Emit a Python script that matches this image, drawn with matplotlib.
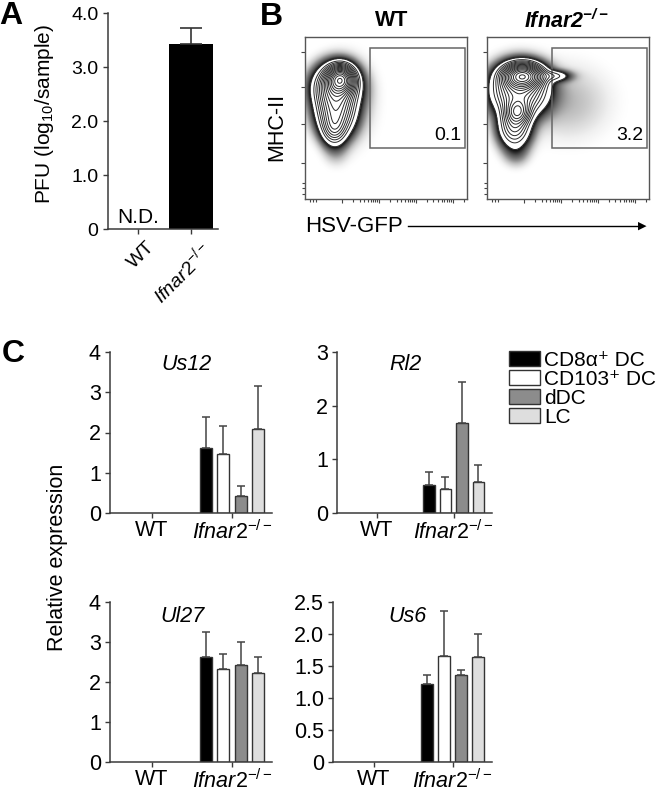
import numpy as np
import matplotlib.pyplot as plt
import matplotlib.transforms as mtransforms
from matplotlib.patches import Patch, Rectangle

plt.rcParams['font.family'] = ['Liberation Sans', 'DejaVu Sans']
plt.rcParams['mathtext.fontset'] = 'custom'
plt.rcParams['mathtext.rm'] = 'Liberation Sans'
plt.rcParams['mathtext.it'] = 'Liberation Sans:italic'
plt.rcParams['mathtext.bf'] = 'Liberation Sans:bold'
plt.rcParams['mathtext.bfit'] = 'Liberation Sans:bold:italic'

# ---- panel A: virus titre
pfu_groups = ['WT', r'$\mathit{Ifnar2}^{\mathit{-/-}}$']
pfu_mean = [0.0, 3.43]
pfu_err = [0.0, 0.29]
pfu_ticks = [0, 1, 2, 3, 4]
pfu_ticklabels = ['0', '1.0', '2.0', '3.0', '4.0']

# ---- panel B: flow plots, density components (cx, cy, sx, sy, weight) in axes units
wt_cx = [0.22, 0.19, 0.19, 0.18, 0.28, 0.19]
wt_cy = [0.74, 0.69, 0.54, 0.43, 0.60, 0.30]
wt_sx = [0.05, 0.08, 0.07, 0.045, 0.10, 0.05]
wt_sy = [0.05, 0.08, 0.09, 0.06, 0.16, 0.06]
wt_w = [1.0, 0.55, 0.45, 0.22, 0.02, 0.02]

ko_cx = [0.22, 0.20, 0.19, 0.17, 0.42, 0.50, 0.18]
ko_cy = [0.76, 0.67, 0.54, 0.45, 0.76, 0.60, 0.28]
ko_sx = [0.07, 0.10, 0.045, 0.06, 0.06, 0.17, 0.05]
ko_sy = [0.045, 0.09, 0.045, 0.08, 0.022, 0.15, 0.05]
ko_w = [1.0, 0.45, 0.35, 0.28, 0.12, 0.016, 0.025]

gate_pct = ['0.1', '3.2']

# ---- panel C: qPCR
cell_types = ['CD8\u03b1\u207a DC', 'CD103\u207a DC', 'dDC', 'LC']
cell_colors = ['#000000', '#ffffff', '#8c8c8c', '#dedede']
genes = ['Us12', 'Rl2', 'Ul27', 'Us6']
us12_mean = [1.62, 1.47, 0.42, 2.09]
us12_err = [0.76, 0.69, 0.25, 1.07]
rl2_mean = [0.52, 0.45, 1.68, 0.58]
rl2_err = [0.24, 0.22, 0.76, 0.31]
ul27_mean = [2.63, 2.32, 2.42, 2.22]
ul27_err = [0.62, 0.38, 0.58, 0.40]
us6_mean = [1.22, 1.66, 1.36, 1.64]
us6_err = [0.14, 0.70, 0.08, 0.36]
c_groups = ['WT', r'$\mathit{Ifnar2}^{\mathit{-/-}}$']

W, H = 666, 792
fig = plt.figure(figsize=(W / 100, H / 100), dpi=100)


def rect(x0, y0, x1, y1):
    return [x0 / W, 1 - y1 / H, (x1 - x0) / W, (y1 - y0) / H]


def fx(px):
    return px / W


def fy(py):
    return 1 - py / H


spine_c = '#3a3a3a'


def style_axes(ax, fs):
    for s in ['top', 'right']:
        ax.spines[s].set_visible(False)
    for s in ['left', 'bottom']:
        ax.spines[s].set_color(spine_c)
        ax.spines[s].set_linewidth(1.1)
    ax.tick_params(direction='out', length=3.5, width=1, color=spine_c, labelsize=fs)


# ---------------- A
axA = fig.add_axes(rect(108, 13, 218, 229))
x = np.arange(len(pfu_groups))
axA.bar(x, pfu_mean, width=0.83, color='black', linewidth=0)
for i in range(len(x)):
    if pfu_mean[i] > 0:
        axA.errorbar(x[i], pfu_mean[i], yerr=[[0], [pfu_err[i]]], color='#333333',
                     elinewidth=1.2, capsize=8, capthick=1.2)
axA.set_xlim(-0.57, 1.51)
axA.set_ylim(0, 4.0)
axA.set_yticks(pfu_ticks)
axA.set_yticklabels(pfu_ticklabels)
axA.set_xticks(x)
axA.set_xticklabels(pfu_groups, rotation=45, ha='right', va='top', rotation_mode='anchor')
style_axes(axA, 14)
axA.tick_params(axis='x', pad=3)
shift = mtransforms.ScaledTranslation(8 / 100, 0, fig.dpi_scale_trans)
for lab in axA.get_xticklabels():
    lab.set_transform(lab.get_transform() + shift)
axA.text(0, 0.22, 'N.D.', ha='center', va='center', fontsize=15)
fig.text(fx(45), fy(114), 'PFU (log$_{10}$/sample)', rotation=90, fontsize=15,
         ha='center', va='center')
fig.text(fx(-1), fy(1), 'A', fontsize=23, fontweight='bold', va='top', ha='left')

# ---------------- B
g = np.linspace(0, 1, 300)
GX, GY = np.meshgrid(g, g)


def flow(ax, cx, cy, sx, sy, w, label):
    Z = np.zeros_like(GX)
    for a, b, c, d, e in zip(cx, cy, sx, sy, w):
        Z += e * np.exp(-0.5 * (((GX - a) / c) ** 2 + ((GY - b) / d) ** 2))
    L0 = 0.06 * Z.max()
    lo = 0.015
    v = np.clip(np.log(np.maximum(Z, 1e-12) / (L0 * lo)) / np.log(1 / lo), 0, 1)
    dark = np.where(Z < L0, v ** 2.0, 0)
    ax.imshow(dark * 0.97, cmap='Greys', vmin=0, vmax=1, origin='lower',
              extent=(0, 1, 0, 1), interpolation='bilinear', aspect='auto')
    levels = L0 * (0.97 * Z.max() / L0) ** (np.linspace(0, 1, 16) ** 0.6)
    ax.contour(GX, GY, Z, levels=levels, colors='#2a2a2a', linewidths=0.7)
    ax.add_patch(Rectangle((0.40, 0.315), 0.585, 0.615, fill=False,
                           edgecolor='#666666', linewidth=1.1))
    ax.text(0.965, 0.39, label, ha='right', va='center', fontsize=14)
    ax.set_xlim(0, 1)
    ax.set_ylim(0, 1)
    for s in ax.spines.values():
        s.set_color('#555555')
        s.set_linewidth(1.0)
    step = 0.227
    dec = [0.23, 0.457, 0.684, 0.911]
    minors = [0.03, 0.05, 0.07]
    for d0 in dec:
        minors += [d0 + np.log10(k) * step for k in range(2, 10) if d0 + np.log10(k) * step < 1]
    ax.set_xticks(dec)
    ax.set_xticks(minors, minor=True)
    ax.set_yticks([0.22, 0.46, 0.69, 0.91])
    ax.set_yticks([0.03, 0.07, 0.1], minor=True)
    ax.set_xticklabels([])
    ax.set_yticklabels([])
    ax.tick_params(which='both', direction='out', color='#444444', width=0.8)
    ax.tick_params(which='major', length=3)
    ax.tick_params(which='minor', length=2)


axB1 = fig.add_axes(rect(305, 37, 467, 199))
flow(axB1, wt_cx, wt_cy, wt_sx, wt_sy, wt_w, gate_pct[0])
axB2 = fig.add_axes(rect(487, 37, 649, 199))
flow(axB2, ko_cx, ko_cy, ko_sx, ko_sy, ko_w, gate_pct[1])
fig.text(fx(392), fy(21), 'WT', fontsize=15.5, fontweight='bold', ha='center', va='center')
fig.text(fx(566), fy(21), r'$\mathbfit{Ifnar2}^{\mathbfit{-/-}}$', fontsize=15.5,
         ha='center', va='center')
fig.text(fx(277), fy(127), 'MHC-II', rotation=90, fontsize=15.5, ha='center', va='center')
fig.text(fx(305), fy(226), 'HSV-GFP', fontsize=16, va='center', ha='left')
fig.add_artist(plt.Line2D([fx(408), fx(640)], [fy(226), fy(226)], color='black', lw=1))
fig.text(fx(646), fy(226), '\u25b6', fontsize=8, va='center', ha='right')
fig.text(fx(260), fy(2), 'B', fontsize=23, fontweight='bold', va='top', ha='left')

# ---------------- C
c_means = [us12_mean, rl2_mean, ul27_mean, us6_mean]
c_errs = [us12_err, rl2_err, ul27_err, us6_err]
c_rects = [rect(110, 352, 272, 513), rect(337, 352, 492, 513),
           rect(110, 602, 272, 762), rect(333, 602, 492, 762)]
c_ylims = [4, 3, 4, 2.5]
c_yticks = [[0, 1, 2, 3, 4], [0, 1, 2, 3], [0, 1, 2, 3, 4],
            [0, 0.5, 1.0, 1.5, 2.0, 2.5]]
c_yticklabels = [['0', '1', '2', '3', '4'], ['0', '1', '2', '3'],
                 ['0', '1', '2', '3', '4'], ['0', '0.5', '1.0', '1.5', '2.0', '2.5']]
c_title_x = [0.47, 0.44, 0.45, 0.47]
c_title_y = [0.92, 0.92, 0.91, 0.91]
offsets = np.array([-1.5, -0.5, 0.5, 1.5]) * 0.216

for k in range(4):
    ax = fig.add_axes(c_rects[k])
    for j in range(4):
        ax.bar(1 + offsets[j], c_means[k][j], width=0.15, color=cell_colors[j],
               edgecolor='#333333', linewidth=1)
        ax.errorbar(1 + offsets[j], c_means[k][j], yerr=[[0], [c_errs[k][j]]],
                    color='#444444', elinewidth=1.1, capsize=3, capthick=1.1)
    ax.set_xlim(-0.52, 1.5)
    ax.set_ylim(0, c_ylims[k])
    ax.set_yticks(c_yticks[k])
    ax.set_yticklabels(c_yticklabels[k])
    ax.set_xticks([0, 1])
    ax.set_xticklabels(c_groups)
    style_axes(ax, 15.5)
    ax.tick_params(axis='x', pad=1.5, labelsize=15.5)
    ax.tick_params(axis='y', pad=3)
    ax.text(c_title_x[k], c_title_y[k], genes[k], transform=ax.transAxes, ha='center',
            va='center', fontsize=15.5, fontstyle='italic')

fig.text(fx(57), fy(557), 'Relative expression', rotation=90, fontsize=15.5,
         ha='center', va='center')
fig.text(fx(2), fy(339), 'C', fontsize=23, fontweight='bold', va='top', ha='left')

handles = [Patch(facecolor=c, edgecolor='#333333', linewidth=1) for c in cell_colors]
fig.legend(handles, cell_types, loc='upper left', bbox_to_anchor=(fx(509), fy(351)),
           frameon=False, fontsize=15, handlelength=1.5, handleheight=0.75,
           handletextpad=0.2, labelspacing=0.0, borderpad=0, borderaxespad=0)

fig.savefig('out.png', dpi=100)
